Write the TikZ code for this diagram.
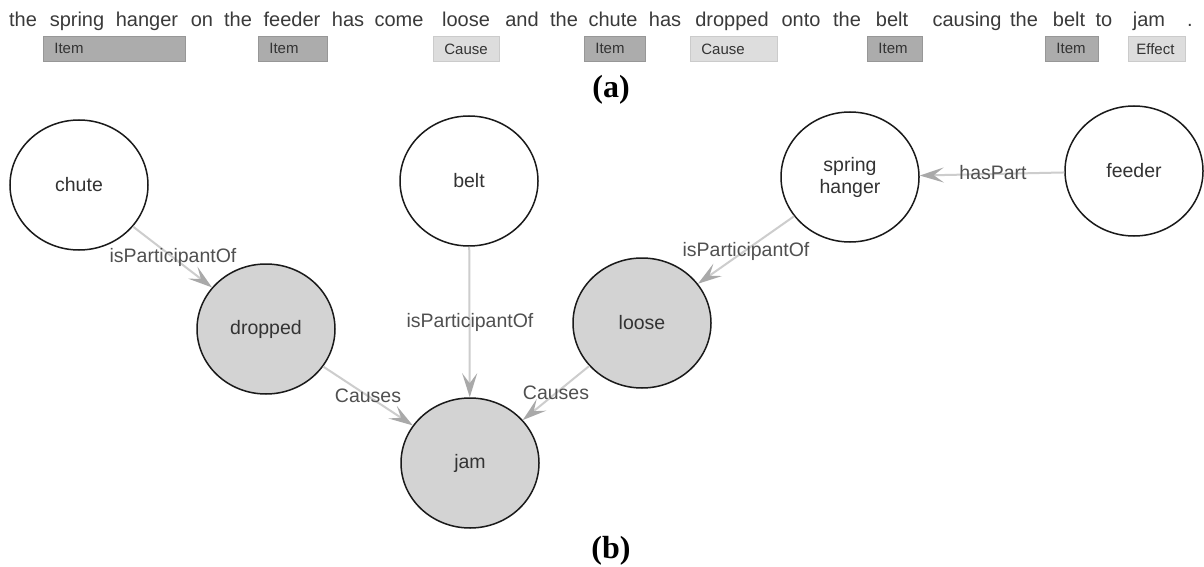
\documentclass[tikz,border=0pt]{standalone}
\usepackage{fontspec}
\setmainfont{Liberation Sans}
\newfontfamily\capfont{Liberation Serif}
\usetikzlibrary{arrows.meta,shapes.geometric}
\definecolor{wordcol}{HTML}{3A3A3A}
\definecolor{nodetxt}{HTML}{333333}
\definecolor{labtxt}{HTML}{505050}
\definecolor{darkfill}{HTML}{ACACAC}
\definecolor{darkline}{HTML}{979797}
\definecolor{lightfill}{HTML}{DDDDDD}
\definecolor{lightline}{HTML}{CBCBCB}
\definecolor{evtfill}{HTML}{D3D3D3}
\definecolor{edgecol}{HTML}{CDCDCD}
\definecolor{tipcol}{HTML}{A9A9A9}
\definecolor{ringcol}{HTML}{1A1A1A}
\tikzset{
  word/.style={anchor=base, inner sep=0pt, text=wordcol, font=\fontsize{20}{24}\selectfont},
  tagbox/.style={anchor=north west, minimum height=25pt, inner xsep=11pt, inner ysep=0pt,
     align=left, text=nodetxt, font=\fontsize{15}{18}\selectfont, line width=0.8pt},
  darktag/.style={tagbox, fill=darkfill, draw=darkline},
  lighttag/.style={tagbox, fill=lightfill, draw=lightline},
  ent/.style={ellipse, draw=ringcol, line width=1.5pt, fill=white, minimum width=138pt,
     minimum height=130pt, inner sep=0pt, text=nodetxt, align=center,
     font=\fontsize{19.5}{22}\selectfont},
  evt/.style={ent, fill=evtfill},
  rel/.style={draw=edgecol, line width=2pt,
     -{Stealth[length=24pt, width=15pt, inset=10pt, color=tipcol]}},
  elabel/.style={anchor=base, inner sep=0pt, text=labtxt, font=\fontsize{19.5}{22}\selectfont},
  caplabel/.style={anchor=base, inner sep=0pt, text=black, font=\capfont\bfseries\fontsize{32}{36}\selectfont}
}
\begin{document}
\begin{tikzpicture}[x=1pt,y=-1pt]
\useasboundingbox[fill=white] (0,0) rectangle (1204,567);

% sentence
\foreach \w/\x [count=\i] in {the/23, spring/77, hanger/147, on/202, the/238, feeder/292,
   has/348, come/399, loose/466, and/522, the/564, chute/613, has/665, dropped/732,
   onto/801, the/847, belt/892, causing/967, the/1024, belt/1069, to/1104, jam/1149, ./1190}
  \node[word] (w\i) at (\x,27) {\w};

% tags
\node[darktag, text width=120pt] (t1) at (43,36) {Item};
\node[darktag, text width=47pt] (t2) at (258,36) {Item};
\node[lighttag, text width=44pt] (t3) at (433,36) {Cause};
\node[darktag, text width=39pt] (t4) at (584,36) {Item};
\node[lighttag, text width=65pt] (t5) at (690,36) {Cause};
\node[darktag, text width=33pt] (t6) at (867,36) {Item};
\node[darktag, text width=31pt] (t7) at (1045,36) {Item};
\node[lighttag, text width=41pt, inner xsep=8pt] (t8) at (1128,36) {Effect};

\node[caplabel] (capa) at (611,98) {(a)};

% graph nodes
\node[ent] (chute) at (79,185) {chute};
\node[ent] (belt) at (469,181) {belt};
\node[ent] (spring) at (850,177) {spring\\hanger};
\node[ent] (feeder) at (1134,171) {feeder};
\node[evt] (dropped) at (266,329) {dropped};
\node[evt] (loose) at (642,323) {loose};
\node[evt] (jam) at (470,463) {jam};

% edges
\draw[rel] (chute) -- (dropped);
\draw[rel] (belt) -- (jam);
\draw[rel] (spring) -- (loose);
\draw[rel] (feeder) -- (spring);
\draw[rel] (dropped) -- (jam);
\draw[rel] (loose) -- (jam);

% edge labels
\node[elabel] (l1) at (173,262) {isParticipantOf};
\node[elabel] (l2) at (470,327) {isParticipantOf};
\node[elabel] (l3) at (746,256) {isParticipantOf};
\node[elabel] (l4) at (993,179) {hasPart};
\node[elabel] (l5) at (368,402) {Causes};
\node[elabel] (l6) at (556,399) {Causes};

\node[caplabel] (capb) at (611,558) {(b)};
\end{tikzpicture}
\end{document}
